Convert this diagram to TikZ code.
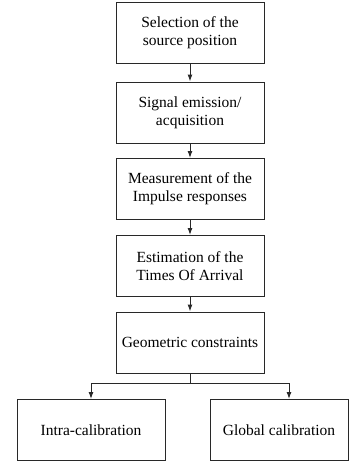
\documentclass[tikz,border=0pt]{standalone}
\usepackage{fontspec}
\setmainfont{Liberation Serif}
\usepackage{tikz}
\usetikzlibrary{arrows.meta,positioning}
\definecolor{flowgray}{RGB}{40,40,40}

\begin{document}
\begin{tikzpicture}[x=1pt,y=-1pt,
  stagebox/.style={draw=flowgray,line width=1pt,minimum width=148pt,minimum height=61pt,align=center,font=\fontsize{15.5}{18.3}\selectfont,inner sep=2pt},
  flow/.style={-{Latex[length=7pt,width=5pt]},flowgray,line width=1pt}]
  \useasboundingbox (0,0) rectangle (349,461);
  % Processing chain
  \node[stagebox] (select) at (190,33) {Selection of the\\source position};
  \node[stagebox] (emit) at (190,112.5) {Signal emission/\\acquisition};
  \node[stagebox] (measure) at (190,189) {Measurement of the\\Impulse responses};
  \node[stagebox] (toa) at (190,266) {Estimation of the\\Times Of Arrival};
  \node[stagebox] (geo) at (190,342.5) {Geometric constraints};
  % Calibration outputs
  \node[stagebox] (intra) at (91,430) {Intra-calibration};
  \node[stagebox,minimum width=138pt] (global) at (279,430) {Global calibration};
  % Arrows
  \draw[flow] (select) -- (emit);
  \draw[flow] (emit) -- (measure);
  \draw[flow] (measure) -- (toa);
  \draw[flow] (toa) -- (geo);
  % Split
  \coordinate (split) at (190,383);
  \draw[flowgray,line width=1pt] (geo) -- (split);
  \draw[flow] (split) -| (intra.north);
  \draw[flow] (split) -| ([xshift=10pt]global.north);
\end{tikzpicture}
\end{document}
